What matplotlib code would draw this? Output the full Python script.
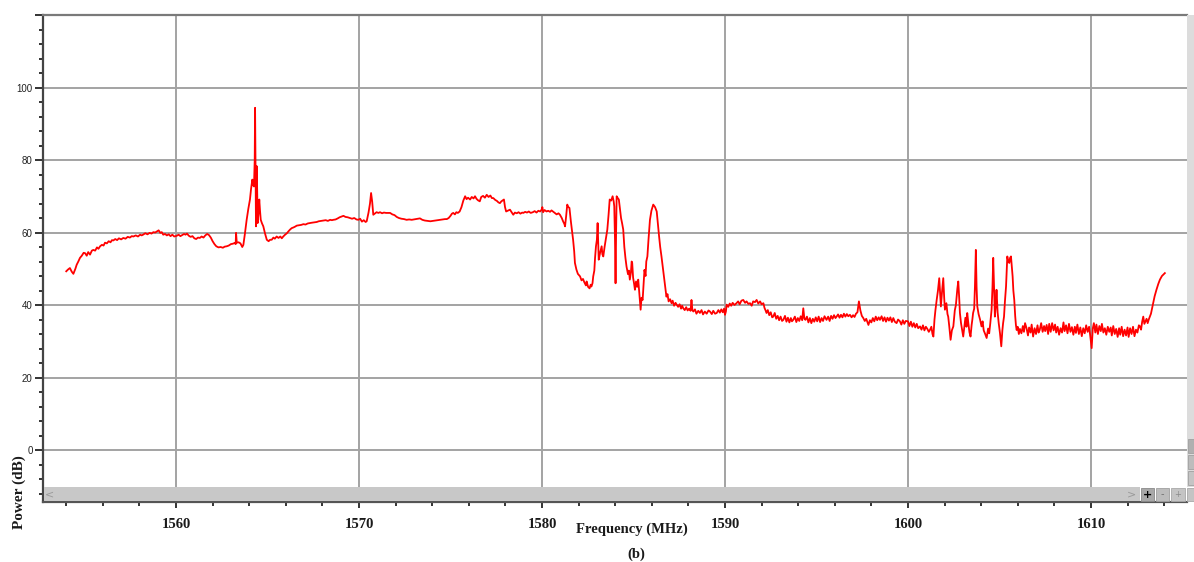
import matplotlib
matplotlib.use("Agg")
import matplotlib.pyplot as plt
from matplotlib.patches import Rectangle
from matplotlib.ticker import MultipleLocator

# ---------------- data ----------------
freq_mhz = [
    1554.00, 1554.10, 1554.20, 1554.30, 1554.39, 1554.50, 1554.57, 1554.66, 1554.75, 1554.85,
    1554.95, 1555.03, 1555.12, 1555.20, 1555.30, 1555.40, 1555.48, 1555.58, 1555.68, 1555.76,
    1555.85, 1555.95, 1556.04, 1556.12, 1556.22, 1556.32, 1556.42, 1556.50, 1556.57, 1556.68,
    1556.78, 1556.88, 1557.00, 1557.12, 1557.24, 1557.36, 1557.48, 1557.58, 1557.67, 1557.80,
    1557.92, 1558.04, 1558.12, 1558.20, 1558.32, 1558.44, 1558.56, 1558.66, 1558.76, 1558.86,
    1558.95, 1559.05, 1559.14, 1559.22, 1559.30, 1559.40, 1559.50, 1559.60, 1559.70, 1559.80,
    1559.90, 1560.04, 1560.14, 1560.24, 1560.34, 1560.44, 1560.52, 1560.60, 1560.70, 1560.80,
    1560.90, 1561.00, 1561.10, 1561.20, 1561.30, 1561.40, 1561.50, 1561.60, 1561.70, 1561.80,
    1561.90, 1562.00, 1562.10, 1562.20, 1562.32, 1562.44, 1562.56, 1562.66, 1562.77, 1562.88,
    1563.00, 1563.10, 1563.20, 1563.26, 1563.28, 1563.32, 1563.42, 1563.52, 1563.62, 1563.68,
    1563.76, 1563.86, 1563.95, 1564.04, 1564.10, 1564.17, 1564.22, 1564.26, 1564.30, 1564.32,
    1564.34, 1564.37, 1564.41, 1564.44, 1564.46, 1564.50, 1564.55, 1564.59, 1564.63, 1564.70,
    1564.77, 1564.86, 1564.96, 1565.06, 1565.14, 1565.23, 1565.32, 1565.40, 1565.50, 1565.60,
    1565.70, 1565.78, 1565.86, 1565.96, 1566.06, 1566.14, 1566.23, 1566.32, 1566.42, 1566.50,
    1566.60, 1566.72, 1566.84, 1566.96, 1567.08, 1567.20, 1567.30, 1567.42, 1567.54, 1567.69,
    1567.80, 1567.92, 1568.04, 1568.18, 1568.30, 1568.42, 1568.52, 1568.60, 1568.72, 1568.84,
    1568.94, 1569.04, 1569.15, 1569.26, 1569.38, 1569.50, 1569.62, 1569.74, 1569.86, 1569.96,
    1570.06, 1570.16, 1570.26, 1570.36, 1570.42, 1570.52, 1570.60, 1570.66, 1570.72, 1570.78,
    1570.86, 1570.96, 1571.06, 1571.15, 1571.26, 1571.36, 1571.48, 1571.60, 1571.70, 1571.82,
    1571.94, 1572.06, 1572.18, 1572.32, 1572.46, 1572.60, 1572.74, 1572.88, 1573.00, 1573.14,
    1573.24, 1573.33, 1573.46, 1573.60, 1573.74, 1573.90, 1574.04, 1574.18, 1574.32, 1574.46,
    1574.58, 1574.70, 1574.80, 1574.90, 1575.00, 1575.08, 1575.15, 1575.24, 1575.32, 1575.40,
    1575.50, 1575.60, 1575.70, 1575.80, 1575.88, 1575.96, 1576.07, 1576.16, 1576.26, 1576.34,
    1576.42, 1576.50, 1576.60, 1576.68, 1576.78, 1576.88, 1576.98, 1577.08, 1577.18, 1577.26,
    1577.34, 1577.44, 1577.54, 1577.62, 1577.70, 1577.78, 1577.86, 1577.92, 1577.98, 1578.04,
    1578.12, 1578.25, 1578.34, 1578.43, 1578.52, 1578.62, 1578.72, 1578.82, 1578.92, 1578.98,
    1579.08, 1579.18, 1579.28, 1579.38, 1579.50, 1579.60, 1579.70, 1579.80, 1579.90, 1579.98,
    1580.02, 1580.06, 1580.14, 1580.25, 1580.34, 1580.44, 1580.52, 1580.60, 1580.70, 1580.80,
    1580.90, 1580.98, 1581.08, 1581.16, 1581.22, 1581.26, 1581.32, 1581.38, 1581.44, 1581.50,
    1581.58, 1581.64, 1581.70, 1581.76, 1581.80, 1581.88, 1581.96, 1582.08, 1582.16, 1582.24,
    1582.32, 1582.40, 1582.44, 1582.52, 1582.60, 1582.66, 1582.70, 1582.76, 1582.80, 1582.86,
    1582.90, 1582.95, 1583.00, 1583.04, 1583.08, 1583.10, 1583.18, 1583.26, 1583.30, 1583.35,
    1583.42, 1583.50, 1583.57, 1583.64, 1583.70, 1583.78, 1583.86, 1583.92, 1583.95, 1583.99,
    1584.02, 1584.05, 1584.08, 1584.14, 1584.20, 1584.26, 1584.32, 1584.38, 1584.44, 1584.50,
    1584.56, 1584.62, 1584.70, 1584.75, 1584.80, 1584.86, 1584.90, 1584.93, 1584.98, 1585.03,
    1585.08, 1585.14, 1585.20, 1585.26, 1585.32, 1585.36, 1585.39, 1585.44, 1585.50, 1585.55,
    1585.60, 1585.66, 1585.70, 1585.76, 1585.82, 1585.90, 1585.98, 1586.08, 1586.18, 1586.27,
    1586.34, 1586.40, 1586.46, 1586.53, 1586.60, 1586.66, 1586.72, 1586.80, 1586.86, 1586.92,
    1587.00, 1587.08, 1587.14, 1587.22, 1587.30, 1587.36, 1587.44, 1587.52, 1587.60, 1587.66,
    1587.72, 1587.80, 1587.88, 1587.96, 1588.04, 1588.12, 1588.17, 1588.22, 1588.27, 1588.36,
    1588.44, 1588.54, 1588.63, 1588.72, 1588.80, 1588.90, 1589.00, 1589.10, 1589.18, 1589.28,
    1589.36, 1589.46, 1589.55, 1589.64, 1589.72, 1589.80, 1589.88, 1589.95, 1590.00, 1590.05,
    1590.09, 1590.18, 1590.26, 1590.34, 1590.42, 1590.52, 1590.63, 1590.72, 1590.80, 1590.90,
    1591.00, 1591.10, 1591.18, 1591.28, 1591.37, 1591.46, 1591.54, 1591.64, 1591.73, 1591.82,
    1591.92, 1592.00, 1592.10, 1592.16, 1592.22, 1592.27, 1592.34, 1592.42, 1592.50, 1592.58,
    1592.64, 1592.72, 1592.80, 1592.88, 1592.96, 1593.04, 1593.12, 1593.19, 1593.28, 1593.36,
    1593.44, 1593.52, 1593.60, 1593.66, 1593.73, 1593.82, 1593.90, 1593.98, 1594.06, 1594.14,
    1594.22, 1594.28, 1594.34, 1594.40, 1594.48, 1594.56, 1594.64, 1594.72, 1594.80, 1594.88,
    1594.96, 1595.04, 1595.12, 1595.20, 1595.28, 1595.36, 1595.44, 1595.55, 1595.64, 1595.72,
    1595.80, 1595.88, 1595.96, 1596.04, 1596.10, 1596.18, 1596.26, 1596.34, 1596.42, 1596.50,
    1596.58, 1596.66, 1596.74, 1596.83, 1596.92, 1597.00, 1597.08, 1597.16, 1597.24, 1597.32,
    1597.40, 1597.48, 1597.56, 1597.64, 1597.72, 1597.84, 1597.92, 1598.00, 1598.08, 1598.16,
    1598.24, 1598.32, 1598.40, 1598.47, 1598.56, 1598.64, 1598.72, 1598.80, 1598.88, 1598.96,
    1599.04, 1599.12, 1599.20, 1599.28, 1599.38, 1599.46, 1599.56, 1599.64, 1599.72, 1599.80,
    1599.88, 1600.00, 1600.08, 1600.16, 1600.24, 1600.32, 1600.40, 1600.48, 1600.56, 1600.66,
    1600.74, 1600.82, 1600.90, 1600.98, 1601.06, 1601.14, 1601.20, 1601.28, 1601.34, 1601.39,
    1601.45, 1601.50, 1601.57, 1601.64, 1601.71, 1601.76, 1601.80, 1601.86, 1601.93, 1601.98,
    1602.02, 1602.10, 1602.16, 1602.20, 1602.26, 1602.33, 1602.40, 1602.48, 1602.56, 1602.62,
    1602.66, 1602.70, 1602.75, 1602.80, 1602.84, 1602.90, 1602.96, 1603.02, 1603.08, 1603.14,
    1603.20, 1603.24, 1603.30, 1603.36, 1603.42, 1603.48, 1603.52, 1603.56, 1603.62, 1603.66,
    1603.71, 1603.75, 1603.79, 1603.86, 1603.94, 1604.02, 1604.08, 1604.14, 1604.22, 1604.30,
    1604.38, 1604.44, 1604.50, 1604.57, 1604.62, 1604.66, 1604.70, 1604.75, 1604.80, 1604.84,
    1604.90, 1604.96, 1605.03, 1605.07, 1605.10, 1605.16, 1605.20, 1605.25, 1605.30, 1605.36,
    1605.40, 1605.43, 1605.48, 1605.54, 1605.58, 1605.63, 1605.68, 1605.72, 1605.76, 1605.81,
    1605.86, 1605.90, 1605.94, 1606.00, 1606.06, 1606.12, 1606.20, 1606.28, 1606.34, 1606.40,
    1606.48, 1606.56, 1606.62, 1606.70, 1606.76, 1606.84, 1606.92, 1607.00, 1607.08, 1607.14,
    1607.20, 1607.28, 1607.36, 1607.44, 1607.50, 1607.58, 1607.66, 1607.72, 1607.80, 1607.88,
    1607.96, 1608.04, 1608.10, 1608.18, 1608.26, 1608.34, 1608.42, 1608.50, 1608.56, 1608.64,
    1608.72, 1608.80, 1608.88, 1608.96, 1609.04, 1609.12, 1609.18, 1609.26, 1609.34, 1609.42,
    1609.50, 1609.58, 1609.66, 1609.74, 1609.82, 1609.90, 1609.96, 1610.04, 1610.10, 1610.16,
    1610.24, 1610.30, 1610.38, 1610.46, 1610.54, 1610.60, 1610.68, 1610.76, 1610.84, 1610.92,
    1611.00, 1611.08, 1611.14, 1611.22, 1611.30, 1611.38, 1611.46, 1611.54, 1611.60, 1611.68,
    1611.76, 1611.84, 1611.92, 1612.00, 1612.06, 1612.14, 1612.22, 1612.30, 1612.38, 1612.46,
    1612.54, 1612.62, 1612.68, 1612.74, 1612.80, 1612.86, 1612.92, 1612.98, 1613.04, 1613.10,
    1613.16, 1613.22, 1613.28, 1613.34, 1613.40, 1613.48, 1613.58, 1613.68, 1613.77, 1613.88,
    1614.04,
]

power_db = [
    49.3, 49.8, 50.2, 49.2, 48.6, 50.0, 51.1, 52.0, 53.0, 53.6,
    54.4, 54.3, 53.6, 54.6, 53.9, 55.0, 55.2, 55.0, 55.9, 55.5,
    56.2, 56.6, 56.4, 57.2, 57.0, 57.6, 57.3, 57.9, 57.8, 58.2,
    57.9, 58.4, 58.1, 58.5, 58.3, 58.8, 58.6, 59.0, 58.9, 59.2,
    58.9, 59.4, 59.2, 59.4, 59.8, 59.5, 59.9, 59.7, 60.1, 60.0,
    60.3, 60.6, 59.9, 60.1, 59.4, 59.6, 59.2, 59.5, 59.0, 59.4,
    58.9, 59.1, 59.4, 59.0, 59.3, 59.6, 59.4, 59.7, 59.1, 58.8,
    59.0, 58.4, 58.2, 58.6, 58.5, 58.9, 58.6, 59.2, 59.6, 59.3,
    58.6, 57.6, 56.8, 56.2, 55.9, 56.0, 55.8, 56.1, 56.2, 56.4,
    56.8, 56.9, 57.1, 56.8, 59.9, 57.2, 57.3, 57.0, 56.0, 56.6,
    59.5, 63.5, 66.5, 69.1, 72.0, 74.6, 73.0, 72.7, 80.0, 94.4,
    82.0, 61.7, 78.3, 70.0, 62.6, 65.0, 69.1, 66.0, 63.5, 62.5,
    61.7, 59.8, 58.0, 57.6, 58.0, 58.0, 58.6, 58.3, 58.9, 58.5,
    58.9, 58.4, 58.9, 59.4, 59.8, 60.3, 60.8, 61.2, 61.4, 61.6,
    61.9, 62.0, 62.1, 62.3, 62.2, 62.5, 62.6, 62.7, 62.8, 62.9,
    63.1, 63.2, 63.3, 63.4, 63.2, 63.5, 63.4, 63.5, 63.6, 63.9,
    64.2, 64.4, 64.6, 64.3, 64.2, 64.0, 63.8, 64.0, 63.6, 63.5,
    63.8, 63.0, 63.4, 62.9, 63.1, 65.5, 68.0, 70.9, 68.5, 64.9,
    65.2, 65.6, 65.4, 65.6, 65.3, 65.5, 65.4, 65.4, 65.4, 65.0,
    64.8, 64.3, 64.0, 63.8, 63.7, 63.5, 63.6, 63.5, 63.6, 63.7,
    63.8, 63.9, 63.5, 63.3, 63.2, 63.1, 63.2, 63.3, 63.4, 63.5,
    63.6, 63.7, 63.7, 64.0, 64.6, 65.2, 65.4, 65.0, 65.6, 65.4,
    65.8, 67.0, 68.8, 70.0, 69.2, 69.6, 69.1, 69.8, 69.4, 70.0,
    69.3, 68.9, 68.6, 69.8, 70.1, 69.6, 70.4, 69.8, 70.2, 69.5,
    69.5, 69.0, 68.7, 68.3, 68.1, 68.6, 68.9, 69.1, 67.0, 65.8,
    66.0, 66.3, 65.6, 64.9, 65.5, 65.3, 65.6, 65.2, 65.5, 65.4,
    65.7, 65.5, 65.8, 65.4, 65.6, 65.9, 65.5, 66.0, 65.8, 66.3,
    67.0, 65.6, 66.2, 65.8, 66.0, 65.7, 66.1, 65.8, 65.4, 65.0,
    65.3, 64.9, 64.0, 63.0, 62.4, 61.7, 64.5, 67.7, 67.0, 66.8,
    63.0, 60.5, 58.0, 54.8, 51.6, 49.8, 48.6, 47.9, 46.8, 47.2,
    46.2, 45.4, 46.5, 45.0, 44.6, 45.6, 45.1, 46.0, 47.9, 49.5,
    53.0, 56.2, 58.0, 62.6, 56.0, 52.5, 54.5, 56.2, 54.0, 53.4,
    56.0, 58.5, 60.8, 65.0, 69.1, 68.8, 70.0, 68.5, 67.2, 58.0,
    46.0, 60.0, 70.0, 69.5, 69.1, 66.5, 64.0, 62.5, 60.8, 56.0,
    53.0, 50.6, 48.5, 49.5, 47.0, 49.0, 52.0, 51.6, 47.5, 46.0,
    44.2, 46.5, 45.0, 47.0, 43.0, 40.5, 38.7, 42.0, 41.4, 45.5,
    49.7, 48.0, 52.0, 53.4, 58.0, 63.5, 66.0, 67.7, 67.0, 65.8,
    62.0, 58.9, 56.0, 53.4, 50.5, 47.9, 45.5, 42.3, 43.0, 41.0,
    41.6, 40.5, 41.2, 39.8, 40.6, 40.1, 39.5, 40.2, 39.0, 39.8,
    39.1, 38.6, 39.4, 38.5, 39.0, 38.4, 41.4, 38.6, 38.2, 38.8,
    37.6, 38.4, 37.8, 38.6, 37.4, 38.2, 37.6, 38.5, 38.2, 37.5,
    38.4, 37.6, 37.8, 38.6, 37.9, 38.8, 38.0, 39.0, 37.3, 38.2,
    40.1, 39.5, 40.4, 39.8, 40.6, 40.0, 40.5, 41.0, 40.2, 41.2,
    41.4, 40.6, 41.0, 40.3, 40.5, 39.8, 41.0, 40.8, 41.4, 40.4,
    41.0, 40.2, 40.5, 39.2, 38.5, 37.8, 38.6, 37.2, 38.0, 36.6,
    36.8, 37.8, 36.2, 37.0, 35.8, 36.8, 35.6, 35.9, 37.0, 35.4,
    36.5, 35.2, 36.4, 35.5, 35.9, 36.8, 35.3, 36.4, 35.6, 36.9,
    35.8, 39.1, 36.2, 35.9, 36.8, 35.2, 36.4, 35.0, 36.2, 35.4,
    36.6, 35.5, 36.8, 35.3, 36.4, 35.6, 36.9, 35.9, 36.8, 35.6,
    37.0, 36.2, 37.2, 36.4, 36.8, 37.4, 36.5, 37.3, 36.6, 37.6,
    36.8, 37.5, 36.9, 37.3, 36.6, 37.2, 36.7, 37.6, 38.0, 41.0,
    38.5, 37.0, 36.4, 35.6, 36.2, 34.5, 35.8, 35.2, 36.4, 35.5,
    36.8, 35.8, 36.6, 35.9, 36.9, 35.6, 36.6, 35.4, 36.5, 35.7,
    36.6, 35.3, 36.4, 35.4, 35.0, 36.0, 35.5, 34.6, 35.8, 34.8,
    35.6, 35.5, 34.2, 35.4, 34.0, 35.0, 33.8, 34.8, 33.6, 34.1,
    33.2, 34.4, 33.0, 34.0, 33.4, 32.6, 33.1, 34.0, 32.0, 31.3,
    36.0, 38.5, 41.4, 44.0, 47.4, 43.0, 39.6, 43.5, 47.4, 42.0,
    38.7, 40.5, 37.5, 36.8, 34.0, 30.4, 33.0, 34.1, 38.5, 40.0,
    42.3, 44.5, 46.5, 42.0, 37.8, 35.0, 33.2, 31.3, 34.0, 36.5,
    34.0, 37.8, 35.0, 32.5, 31.3, 34.5, 36.0, 37.8, 39.0, 45.0,
    55.2, 45.0, 39.6, 37.5, 36.0, 34.1, 35.5, 33.0, 32.0, 30.9,
    33.5, 32.2, 35.0, 38.7, 45.0, 53.0, 46.0, 36.8, 40.0, 44.2,
    38.0, 35.0, 32.2, 30.0, 28.6, 33.0, 35.0, 36.8, 41.0, 45.1,
    50.0, 53.4, 52.0, 51.6, 53.0, 53.4, 50.5, 47.9, 44.0, 41.4,
    37.0, 34.5, 33.1, 34.0, 32.0, 33.4, 32.2, 34.2, 32.6, 35.0,
    33.6, 31.6, 33.8, 32.4, 34.6, 31.3, 33.6, 32.0, 34.4, 32.4,
    33.1, 35.0, 32.6, 34.2, 32.8, 34.5, 32.0, 34.8, 32.6, 35.0,
    33.0, 34.6, 32.4, 34.0, 31.8, 33.6, 32.4, 35.2, 32.8, 34.4,
    32.2, 34.8, 32.6, 33.9, 31.8, 34.0, 32.3, 34.6, 32.0, 33.8,
    31.4, 33.6, 32.2, 34.4, 32.6, 34.0, 31.6, 28.1, 33.5, 35.0,
    32.4, 34.6, 32.0, 34.2, 32.8, 34.8, 32.4, 33.6, 31.8, 34.0,
    32.6, 33.8, 31.6, 34.2, 32.0, 33.4, 31.2, 33.6, 31.8, 34.0,
    31.4, 33.2, 31.6, 33.8, 31.2, 33.6, 32.0, 34.0, 31.4, 33.2,
    32.4, 34.4, 34.1, 33.2, 35.4, 36.8, 34.8, 35.5, 36.2, 35.0,
    36.0, 36.8, 37.6, 39.0, 40.5, 42.4, 44.2, 45.8, 47.0, 48.0,
    48.8,
]

x_ticks = [1560, 1570, 1580, 1590, 1600, 1610]
x_tick_labels = ["1560", "1570", "1580", "1590", "1600", "1610"]
y_ticks = [0, 20, 40, 60, 80, 100, 120]
y_tick_labels = ["0", "20", "40", "60", "80", "100", ""]

x_label = "Frequency (MHz)"
y_label = "Power (dB)"
panel_label = "(b)"

assert len(freq_mhz) == len(power_db)

# ---------------- figure ----------------
W, H = 1194, 562
fig = plt.figure(figsize=(W / 100, H / 100), dpi=100)
fig.patch.set_facecolor("white")

ax_l, ax_r, ax_t, ax_b = 43, 1187, 15, 502
ax = fig.add_axes([ax_l / W, (H - ax_b) / H, (ax_r - ax_l) / W, (ax_b - ax_t) / H])

ax.plot(freq_mhz, power_db, color="#ff0000", lw=1.3, zorder=3)

ax.set_xlim(1552.73, 1615.25)
ax.set_ylim(-14.34, 120)

ax.set_xticks(x_ticks)
ax.set_xticklabels(x_tick_labels, fontfamily="Liberation Serif",
                   fontweight="bold", fontsize=10.5, color="#1a1a1a")
ax.xaxis.set_minor_locator(MultipleLocator(2))
ax.set_yticks(y_ticks)
ax.set_yticklabels(y_tick_labels, fontfamily="Liberation Sans",
                   fontsize=7, color="#222222")
ax.yaxis.set_minor_locator(MultipleLocator(4))

ax.grid(which="major", color="#a3a3a3", lw=1.4, zorder=1)
ax.set_axisbelow(True)

ax.tick_params(axis="y", which="major", direction="out", length=6,
               width=1.4, color="#333333", pad=1.5)
ax.tick_params(axis="y", which="minor", direction="out", length=3,
               width=1.4, color="#333333")
ax.tick_params(axis="x", which="major", direction="out", length=4.5,
               width=1.4, color="#333333", pad=7)
ax.tick_params(axis="x", which="minor", direction="out", length=3,
               width=1.4, color="#333333")

ax.spines["left"].set_color("#444444")
ax.spines["left"].set_linewidth(1.6)
ax.spines["bottom"].set_color("#555555")
ax.spines["bottom"].set_linewidth(1.6)
ax.spines["top"].set_color("#7a7a7a")
ax.spines["top"].set_linewidth(1.6)
ax.spines["right"].set_visible(False)

# axis titles
fig.text(632 / W, (H - 529) / H, x_label, ha="center", va="center",
         fontfamily="Liberation Serif", fontweight="bold", fontsize=10.5,
         color="#1a1a1a")
fig.text(636 / W, (H - 554) / H, panel_label, ha="center", va="center",
         fontfamily="Liberation Serif", fontweight="bold", fontsize=10.5,
         color="#1a1a1a")
fig.text(19 / W, (H - 492) / H, y_label, ha="center", va="center",
         rotation=90, fontfamily="Liberation Serif", fontweight="bold",
         fontsize=11, color="#1a1a1a")

# ---------------- scroll-bar decorations (pixel overlay) ----------------
ui = fig.add_axes([0, 0, 1, 1], zorder=5)
ui.set_xlim(0, W)
ui.set_ylim(H, 0)
ui.axis("off")
ui.patch.set_alpha(0)

# horizontal scroll bar
ui.add_patch(Rectangle((ax_l + 1, 487), 1140 - ax_l - 1, 14.2, facecolor="#c8c8c8",
                       edgecolor="none"))
ui.text(50, 494, "<", fontsize=8, color="#9a9a9a", ha="center", va="center")
ui.text(1132, 494, ">", fontsize=8, color="#9a9a9a", ha="center", va="center")
ui.add_patch(Rectangle((1141, 488), 13, 13, facecolor="#a8a8a8", edgecolor="#8a8a8a", lw=0.6))
ui.text(1147.5, 494.5, "+", fontsize=8, color="black", ha="center", va="center",
        fontweight="bold")
ui.add_patch(Rectangle((1156, 488), 13, 13, facecolor="#bcbcbc", edgecolor="#a0a0a0", lw=0.6))
ui.text(1162.5, 494, "-", fontsize=7, color="#707070", ha="center", va="center")
ui.add_patch(Rectangle((1171, 488), 14, 13, facecolor="#c4c4c4", edgecolor="#a8a8a8", lw=0.6))
ui.text(1178, 494.5, "+", fontsize=6, color="#8a8a8a", ha="center", va="center")
ui.add_patch(Rectangle((1187, 488), 7, 13, facecolor="#c4c4c4", edgecolor="#a8a8a8", lw=0.6))

# vertical scroll bar on the right
ui.add_patch(Rectangle((1187, ax_t), 7, 487 - ax_t, facecolor="#dcdcdc", edgecolor="none"))
for y0, fc in [(439, "#b0b0b0"), (455, "#bcbcbc"), (471, "#c4c4c4")]:
    ui.add_patch(Rectangle((1188, y0), 6, 14, facecolor=fc, edgecolor="#a0a0a0", lw=0.6))

fig.savefig("out.png", dpi=100, facecolor="white")
